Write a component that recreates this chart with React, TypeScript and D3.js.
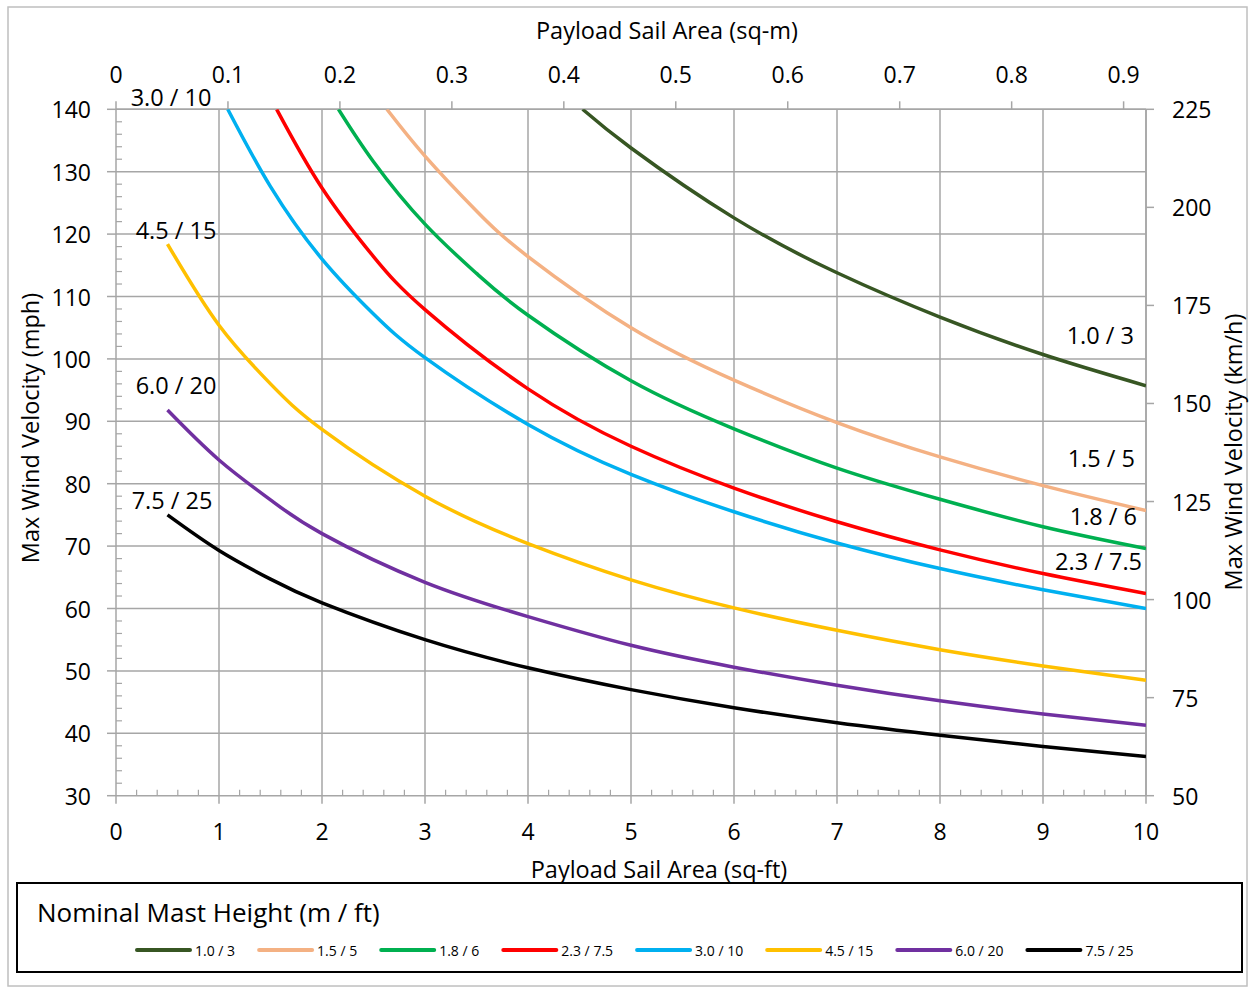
import React from 'react';
import * as d3 from 'd3';

// ---------- DATA ----------
const seriesNames = ['1.0 / 3', '1.5 / 5', '1.8 / 6', '2.3 / 7.5', '3.0 / 10', '4.5 / 15', '6.0 / 20', '7.5 / 25'];
const seriesColors = ['#375623', '#F4B183', '#00B050', '#FF0000', '#00B0F0', '#FFC000', '#7030A0', '#000000'];

const area_1_0 = [4.53, 5, 6, 7, 8, 9, 10];
const mph_1_0 = [140, 133.8, 122.6, 113.8, 106.7, 100.7, 95.7];

const area_1_5 = [2.63, 3, 3.5, 4, 5, 6, 7, 8, 9, 10];
const mph_1_5 = [140, 132.5, 123.7, 116.4, 105.0, 96.6, 89.8, 84.3, 79.7, 75.7];

const area_1_8 = [2.16, 2.5, 3, 3.5, 4, 5, 6, 7, 8, 9, 10];
const mph_1_8 = [140, 131.6, 121.6, 113.7, 107.0, 96.5, 88.8, 82.5, 77.5, 73.1, 69.6];

const area_2_3 = [1.56, 2, 2.5, 3, 4, 5, 6, 7, 8, 9, 10];
const mph_2_3 = [140, 127.4, 116.4, 107.9, 95.2, 86.0, 79.3, 73.9, 69.4, 65.6, 62.4];

const area_3_0 = [1.085, 1.5, 2, 2.5, 3, 4, 5, 6, 7, 8, 9, 10];
const mph_3_0 = [140, 127.6, 116.0, 107.2, 100.2, 89.5, 81.5, 75.5, 70.5, 66.4, 63.0, 60.0];

const area_4_5 = [0.5, 1, 1.5, 2, 3, 4, 5, 6, 7, 8, 9, 10];
const mph_4_5 = [118.4, 105.4, 96.0, 88.7, 78.0, 70.4, 64.6, 60.1, 56.5, 53.4, 50.8, 48.5];

const area_6_0 = [0.5, 1, 1.5, 2, 3, 4, 5, 6, 7, 8, 9, 10];
const mph_6_0 = [91.8, 83.8, 77.4, 72.0, 64.2, 58.7, 54.1, 50.6, 47.7, 45.2, 43.1, 41.3];

const area_7_5 = [0.5, 1, 1.5, 2, 3, 4, 5, 6, 7, 8, 9, 10];
const mph_7_5 = [75.0, 69.3, 64.7, 60.9, 55.0, 50.5, 47.0, 44.1, 41.7, 39.7, 37.9, 36.3];

const seriesAreas = [area_1_0, area_1_5, area_1_8, area_2_3, area_3_0, area_4_5, area_6_0, area_7_5];
const seriesMph = [mph_1_0, mph_1_5, mph_1_8, mph_2_3, mph_3_0, mph_4_5, mph_6_0, mph_7_5];

const xTicks = [0, 1, 2, 3, 4, 5, 6, 7, 8, 9, 10];
const yTicks = [30, 40, 50, 60, 70, 80, 90, 100, 110, 120, 130, 140];
const x2Ticks = [0, 0.1, 0.2, 0.3, 0.4, 0.5, 0.6, 0.7, 0.8, 0.9];
const y2Ticks = [50, 75, 100, 125, 150, 175, 200, 225];

// curve label placement (layout only)
const curveLabelPos: { x: number; y: number; anchor: string }[] = [
  { x: 1134, y: 335, anchor: 'end' },
  { x: 1135, y: 458, anchor: 'end' },
  { x: 1137, y: 516, anchor: 'end' },
  { x: 1142, y: 561, anchor: 'end' },
  { x: 171, y: 97, anchor: 'middle' },
  { x: 176, y: 230, anchor: 'middle' },
  { x: 176, y: 385, anchor: 'middle' },
  { x: 172, y: 500, anchor: 'middle' },
];

const FONT = '"Open Sans", "Liberation Sans", sans-serif';
const GRID = '#A6A6A6';

export default function App() {
  const W = 1249, H = 989;
  const L = 116, R = 1146, T = 109.3, B = 795.7;
  const x = d3.scaleLinear().domain([0, 10]).range([L, R]);
  const y = d3.scaleLinear().domain([30, 140]).range([B, T]);
  const x2 = d3.scaleLinear().domain([0, 0.92]).range([L, R]);
  const y2 = d3.scaleLinear().domain([50, 225]).range([B, T]);

  const line = d3.line<[number, number]>()
    .x(d => x(d[0]))
    .y(d => y(d[1]))
    .curve(d3.curveNatural);

  const yMinor = d3.range(30, 140.01, 2).filter(v => v % 10 !== 0);
  const xMinor = d3.range(0, 10.001, 0.2).filter(v => Math.abs(v - Math.round(v)) > 1e-6);

  // legend layout via text measurement
  const legendFont = 14;
  const measure = (s: string, size: number) => {
    if (typeof document === 'undefined') return s.length * size * 0.5;
    const c = document.createElement('canvas').getContext('2d');
    if (!c) return s.length * size * 0.5;
    c.font = `${size}px ${FONT}`;
    return c.measureText(s).width;
  };
  let lx = 137;
  const legendItems = seriesNames.map((n, i) => {
    const item = { x: lx, name: n, color: seriesColors[i] };
    lx += 53 + 5 + measure(n, legendFont) + 24;
    return item;
  });

  return (
    <svg width={W} height={H} style={{ position: 'absolute', left: 0, top: 0, background: '#fff' }} fontFamily={FONT}>
      <rect x={0} y={0} width={W} height={H} fill="#fff" />
      <rect x={8} y={7} width={1239} height={979} fill="none" stroke="#BFBFBF" strokeWidth={1.5} />
      <defs>
        <clipPath id="plotclip">
          <rect x={L} y={T} width={R - L} height={B - T} />
        </clipPath>
      </defs>

      {/* gridlines */}
      {xTicks.slice(1).map(t => (
        <line key={'gx' + t} x1={x(t)} x2={x(t)} y1={T} y2={B} stroke={GRID} strokeWidth={1.5} />
      ))}
      {yTicks.slice(1).map(t => (
        <line key={'gy' + t} x1={L} x2={R} y1={y(t)} y2={y(t)} stroke={GRID} strokeWidth={1.5} />
      ))}

      {/* axes lines */}
      <line x1={L} x2={L} y1={T} y2={B} stroke={GRID} strokeWidth={1.5} />
      <line x1={L} x2={R} y1={B} y2={B} stroke={GRID} strokeWidth={1.5} />
      <line x1={R} x2={R} y1={T} y2={B} stroke={GRID} strokeWidth={1.5} />
      <line x1={L} x2={R} y1={T} y2={T} stroke={GRID} strokeWidth={1.5} />

      {/* left ticks */}
      {yTicks.map(t => (
        <line key={'lt' + t} x1={L - 9} x2={L} y1={y(t)} y2={y(t)} stroke={GRID} strokeWidth={1.5} />
      ))}
      {yMinor.map(t => (
        <line key={'lm' + t} x1={L} x2={L + 6} y1={y(t)} y2={y(t)} stroke={GRID} strokeWidth={1.2} />
      ))}
      {/* bottom ticks */}
      {xTicks.map(t => (
        <line key={'bt' + t} x1={x(t)} x2={x(t)} y1={B} y2={B + 8} stroke={GRID} strokeWidth={1.5} />
      ))}
      {xMinor.map(t => (
        <line key={'bm' + t.toFixed(1)} x1={x(t)} x2={x(t)} y1={B - 6} y2={B} stroke={GRID} strokeWidth={1.2} />
      ))}
      {/* top ticks */}
      {x2Ticks.map(t => (
        <line key={'tt' + t} x1={x2(t)} x2={x2(t)} y1={T - 8} y2={T} stroke={GRID} strokeWidth={1.5} />
      ))}
      {/* right ticks */}
      {y2Ticks.map(t => (
        <line key={'rt' + t} x1={R} x2={R + 8} y1={y2(t)} y2={y2(t)} stroke={GRID} strokeWidth={1.5} />
      ))}

      {/* tick labels */}
      {yTicks.map(t => (
        <text key={'ly' + t} x={91} y={y(t)} textAnchor="end" dominantBaseline="central" fontSize={23} fill="#000">{t}</text>
      ))}
      {xTicks.map(t => (
        <text key={'lx' + t} x={x(t)} y={831} textAnchor="middle" dominantBaseline="central" fontSize={23} fill="#000">{t}</text>
      ))}
      {x2Ticks.map(t => (
        <text key={'lx2' + t} x={x2(t)} y={74} textAnchor="middle" dominantBaseline="central" fontSize={23} fill="#000">{t === 0 ? '0' : d3.format('.1f')(t)}</text>
      ))}
      {y2Ticks.map(t => (
        <text key={'ly2' + t} x={1172} y={y2(t)} textAnchor="start" dominantBaseline="central" fontSize={23} fill="#000">{t}</text>
      ))}

      {/* axis titles */}
      <text x={667} y={30} textAnchor="middle" dominantBaseline="central" fontSize={23.5}>Payload Sail Area (sq-m)</text>
      <text x={659} y={869} textAnchor="middle" dominantBaseline="central" fontSize={23.5}>Payload Sail Area (sq-ft)</text>
      <text transform="translate(30,428) rotate(-90)" textAnchor="middle" dominantBaseline="central" fontSize={23.5}>Max Wind Velocity (mph)</text>
      <text transform="translate(1233,452) rotate(-90)" textAnchor="middle" dominantBaseline="central" fontSize={23.5}>Max Wind Velocity (km/h)</text>

      {/* series */}
      <g clipPath="url(#plotclip)">
        {seriesNames.map((n, i) => (
          <path
            key={'s' + i}
            d={line(seriesAreas[i].map((a, j) => [a, seriesMph[i][j]] as [number, number])) || ''}
            fill="none"
            stroke={seriesColors[i]}
            strokeWidth={3.5}
          />
        ))}
      </g>

      {/* curve labels */}
      {seriesNames.map((n, i) => (
        <text key={'cl' + i} x={curveLabelPos[i].x} y={curveLabelPos[i].y} textAnchor={curveLabelPos[i].anchor as any}
          dominantBaseline="central" fontSize={23.5} fill="#000">{n}</text>
      ))}

      {/* legend */}
      <rect x={17} y={883} width={1225} height={89} fill="#fff" stroke="#000" strokeWidth={2} />
      <text x={37} y={912} dominantBaseline="central" fontSize={26}>Nominal Mast Height (m / ft)</text>
      {legendItems.map((it, i) => (
        <g key={'lg' + i}>
          <line x1={it.x} x2={it.x + 53} y1={950} y2={950} stroke={it.color} strokeWidth={4} strokeLinecap="round" />
          <text x={it.x + 58} y={950} dominantBaseline="central" fontSize={legendFont}>{it.name}</text>
        </g>
      ))}
    </svg>
  );
}
